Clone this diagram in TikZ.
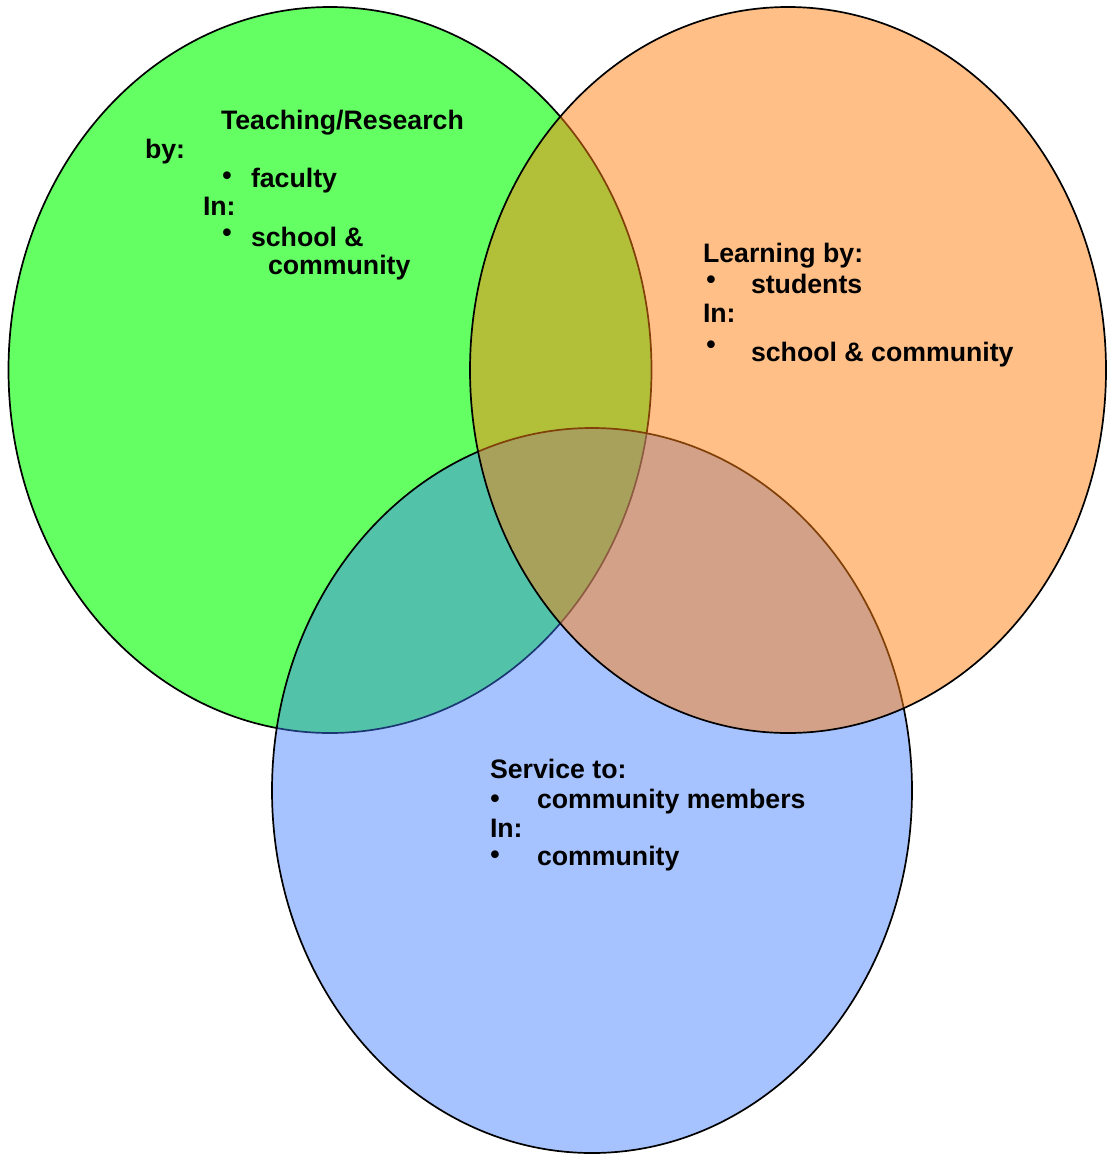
\documentclass[tikz,border=0pt]{standalone}
\usepackage{fontspec}
\setmainfont{Liberation Sans}
\definecolor{cgreen}{RGB}{0,255,0}
\definecolor{cblue}{RGB}{62,124,255}
\definecolor{corange}{RGB}{255,128,17}
\begin{document}
\begin{tikzpicture}[x=1pt,y=-1pt,
  venn/.style={draw=black,line width=1.7pt},
  txt/.style={anchor=base west,inner sep=0pt,outer sep=0pt,font=\bfseries\fontsize{26.7}{30}\selectfont},
  bul/.style={anchor=base,inner sep=0pt,outer sep=0pt,font=\bfseries\fontsize{26.7}{30}\selectfont}]
\useasboundingbox (0,0) rectangle (1107,1156);
\fill[white] (0,0) rectangle (1107,1156);
% ellipses: green, blue, orange (orange on top)
\draw[venn,fill=cgreen,fill opacity=0.61] (330,370) ellipse [x radius=321.5,y radius=363];
\draw[venn,fill=cblue,fill opacity=0.45] (592,790.5) ellipse [x radius=320,y radius=362.5];
\draw[venn,fill=corange,fill opacity=0.5] (788,370) ellipse [x radius=318,y radius=363];
% green text
\node[txt] (t1) at (221,129.5) {Teaching/Research};
\node[txt] (t2) at (145,158.5) {by:};
\node[bul] (t3) at (227,184.5) {•};
\node[txt] (t4) at (251,187.5) {faculty};
\node[txt] (t5) at (203,215.5) {In:};
\node[bul] (t6) at (227,241.5) {•};
\node[txt] (t7) at (251,246.5) {school \&};
\node[txt] (t8) at (268,274.5) {community};
% orange text
\node[txt] (o1) at (703,262.5) {Learning by:};
\node[bul] (o2) at (711,288.5) {•};
\node[txt] (o3) at (751,293.5) {students};
\node[txt] (o4) at (703,322.5) {In:};
\node[bul] (o5) at (711,353.5) {•};
\node[txt] (o6) at (751,361.5) {school \& community};
% blue text
\node[txt] (b1) at (490,778.5) {Service to:};
\node[bul] (b2) at (495,807.5) {•};
\node[txt] (b3) at (537,808.5) {community members};
\node[txt] (b4) at (490,837.5) {In:};
\node[bul] (b5) at (495,863.5) {•};
\node[txt] (b6) at (537,865.5) {community};
\end{tikzpicture}
\end{document}
